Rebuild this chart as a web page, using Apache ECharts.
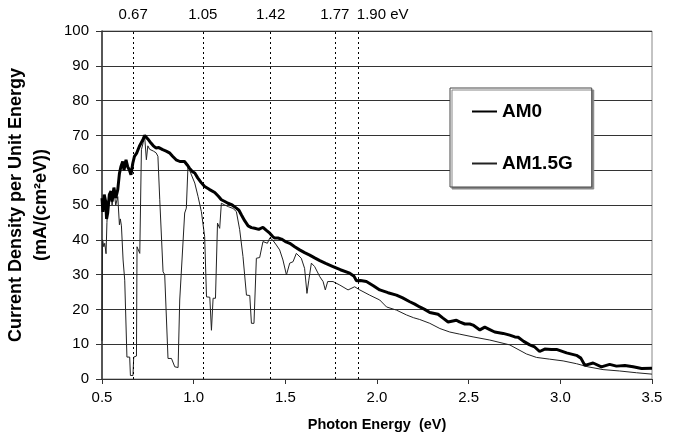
<!DOCTYPE html>
<html>
<head>
<meta charset="utf-8">
<script src="https://cdn.jsdelivr.net/npm/echarts@6/dist/echarts.min.js"></script>
<style>
  html, body { margin: 0; padding: 0; background: #fff; }
  #chart { width: 674px; height: 443px; }
</style>
</head>
<body>
<div id="chart"></div>
<script>
// AM0 spectrum (photon energy eV, current density mA/(cm2 eV))
const am0Energy = [0.500, 0.505, 0.512, 0.520, 0.525, 0.531, 0.540, 0.549, 0.555, 0.565, 0.575, 0.586, 0.595, 0.603, 0.613, 0.620,
    0.631, 0.640, 0.650, 0.658, 0.668, 0.677, 0.690, 0.704, 0.715, 0.725, 0.733, 0.740, 0.750, 0.767, 0.780, 0.794,
    0.810, 0.831, 0.850, 0.868, 0.885, 0.904, 0.925, 0.950, 0.965, 0.977, 0.995, 1.006, 1.022, 1.040, 1.060, 1.085,
    1.115, 1.135, 1.151, 1.170, 1.187, 1.210, 1.233, 1.247, 1.260, 1.278, 1.297, 1.315, 1.333, 1.355, 1.378, 1.395,
    1.415, 1.430, 1.442, 1.460, 1.479, 1.500, 1.524, 1.551, 1.578, 1.605, 1.633, 1.660, 1.688, 1.720, 1.760, 1.800,
    1.851, 1.875, 1.888, 1.910, 1.942, 1.980, 2.015, 2.060, 2.106, 2.140, 2.179, 2.206, 2.233, 2.260, 2.288, 2.333,
    2.360, 2.388, 2.433, 2.450, 2.479, 2.506, 2.524, 2.561, 2.588, 2.615, 2.642, 2.688, 2.724, 2.752, 2.770, 2.800,
    2.833, 2.860, 2.887, 2.915, 2.951, 2.979, 3.034, 3.088, 3.112, 3.134, 3.179, 3.224, 3.269, 3.306, 3.352, 3.397,
    3.443, 3.500];
const am0Values = [52, 48, 53, 51, 46, 47.7, 53, 54, 51, 55, 52, 54.4, 59, 61, 62.5, 60,
    63, 61, 60, 58.7, 62, 64, 65, 66.9, 68, 69, 70, 69.7, 69, 67.8, 67, 66.4,
    66.5, 65.9, 65.5, 65, 64, 63, 62.5, 62.5, 61.5, 60.6, 59.5, 59.2, 57.8, 56.5, 55.3, 54.5,
    53.6, 52.5, 51.5, 51, 50.5, 50, 49.1, 48.5, 47.2, 45.5, 44, 43.5, 43.3, 43, 43.6, 42.8,
    41.9, 41, 40.5, 40.5, 40.2, 39.5, 39, 38, 37.1, 36.3, 35.6, 34.8, 34, 33.2, 32.3, 31.4,
    30.4, 29.5, 28.2, 28.3, 28, 26.8, 25.6, 24.8, 24.1, 23.3, 22.2, 21.5, 20.7, 20, 19.1, 18.6,
    17.5, 16.4, 16.9, 16.4, 15.8, 15.8, 15.5, 14.1, 14.9, 14.2, 13.5, 13.1, 12.6, 12.1, 12, 10.8,
    9.8, 9.2, 7.9, 8.6, 8.5, 8.5, 7.5, 6.8, 6, 3.9, 4.6, 3.5, 4.2, 3.7, 3.9, 3.5,
    3.0, 3.1];

// AM1.5G spectrum
const amgEnergy = [0.500, 0.503, 0.510, 0.515, 0.522, 0.527, 0.531, 0.540, 0.549, 0.555, 0.565, 0.575, 0.586, 0.595, 0.600, 0.606,
    0.615, 0.624, 0.636, 0.651, 0.655, 0.669, 0.673, 0.688, 0.691, 0.700, 0.706, 0.715, 0.725, 0.733, 0.742, 0.750,
    0.760, 0.780, 0.795, 0.805, 0.815, 0.833, 0.842, 0.860, 0.879, 0.897, 0.915, 0.924, 0.933, 0.951, 0.960, 0.969,
    0.985, 1.006, 1.024, 1.042, 1.060, 1.070, 1.088, 1.097, 1.106, 1.119, 1.130, 1.142, 1.151, 1.170, 1.190, 1.215,
    1.233, 1.251, 1.269, 1.288, 1.306, 1.315, 1.329, 1.342, 1.360, 1.378, 1.402, 1.415, 1.430, 1.451, 1.469, 1.487,
    1.506, 1.524, 1.542, 1.560, 1.587, 1.605, 1.618, 1.628, 1.642, 1.660, 1.688, 1.706, 1.718, 1.731, 1.760, 1.797,
    1.842, 1.878, 1.906, 1.960, 2.015, 2.052, 2.106, 2.161, 2.200, 2.233, 2.288, 2.343, 2.397, 2.450, 2.524, 2.615,
    2.724, 2.815, 2.870, 2.942, 3.015, 3.088, 3.151, 3.233, 3.324, 3.415, 3.500];
const amgValues = [11, 40, 38, 39, 36, 45, 51, 52, 53, 50, 54, 50, 52.4, 44.3, 46, 44,
    34.2, 28.4, 6.3, 6.3, 1, 1, 6.3, 6.6, 38, 37.5, 36.1, 65.9, 68, 69.5, 63, 67,
    66, 65.5, 65, 64, 51.5, 30.8, 30, 5.9, 5.9, 3.5, 3.3, 22.7, 22.7, 47.7, 49.1, 61.1,
    59, 56.3, 52.4, 48.1, 40.9, 23.6, 23.5, 14, 23.2, 23.2, 44.8, 43.3, 50.5, 50, 49.5, 49,
    48.1, 42.9, 35.2, 24.1, 24, 16, 16, 34.7, 34.9, 39.5, 39, 40.5, 40, 38.5, 37.1, 34.2,
    29.9, 33.3, 33.7, 36.1, 34.7, 31.8, 24.6, 28.4, 33.3, 32.3, 29.4, 28, 25.6, 28, 28, 27,
    25.6, 26.5, 25.6, 24.1, 22.7, 20.7, 19.8, 18.4, 17.6, 17.1, 16, 14.5, 13.5, 12.9, 12.1, 11.2,
    9.8, 7.2, 6.2, 5.7, 5.2, 4.4, 3.5, 2.7, 2.3, 1.8, 1.4];

// band-gap marker lines
const gapEnergy = [0.67, 1.05, 1.42, 1.77, 1.90];
const gapLabels = ['0.67', '1.05', '1.42', '1.77', '1.90 eV'];

const xTicks = { min: 0.5, max: 3.5, interval: 0.5 };
const yTicks = { min: 0, max: 100, interval: 10 };

const pairs = (xs, ys) => xs.map((x, i) => [x, ys[i]]);

const chart = echarts.init(document.getElementById('chart'), null, { renderer: 'canvas' });

const font = 'Arial, "Liberation Sans", sans-serif';

const option = {
    backgroundColor: '#ffffff',
    animation: false,
    textStyle: { fontFamily: font },
    grid: {
        left: 102, right: 22, top: 31, bottom: 64,
        outerBoundsMode: 'none',
        show: true, borderColor: '#888', borderWidth: 1
    },
    legend: {
        orient: 'vertical',
        left: 450, top: 88,
        padding: [14, 19, 14, 21],
        itemGap: 33,
        itemWidth: 25,
        itemHeight: 14,
        backgroundColor: '#fff',
        borderColor: '#444',
        borderWidth: 1,
        shadowColor: '#888',
        shadowOffsetX: 2,
        shadowOffsetY: 2,
        shadowBlur: 0,
        itemStyle: { opacity: 0 },
        textStyle: { fontSize: 19, fontWeight: 'bold', color: '#000', fontFamily: font },
        data: ['AM0', 'AM1.5G']
    },
    xAxis: {
        type: 'value',
        min: xTicks.min, max: xTicks.max, interval: xTicks.interval,
        name: 'Photon Energy  (eV)',
        nameLocation: 'middle',
        nameGap: 38,
        nameTextStyle: { fontSize: 14.5, fontWeight: 'bold', color: '#000', fontFamily: font },
        axisLine: { lineStyle: { color: '#333', width: 1 } },
        axisTick: { show: true, inside: false, length: 5, lineStyle: { color: '#333' } },
        axisLabel: {
            fontSize: 15, color: '#000', margin: 11, fontFamily: font,
            formatter: v => v.toFixed(1)
        },
        splitLine: { show: false }
    },
    yAxis: {
        type: 'value',
        min: yTicks.min, max: yTicks.max, interval: yTicks.interval,
        name: 'Current Density per Unit Energy\n(mA/(cm²eV))',
        nameLocation: 'middle',
        nameGap: 47,
        nameTextStyle: { fontSize: 18, fontWeight: 'bold', color: '#000', lineHeight: 25, fontFamily: font },
        axisLine: { show: true, lineStyle: { color: '#333', width: 1.5 } },
        axisTick: { show: true, inside: false, length: 6, lineStyle: { color: '#333' } },
        axisLabel: { fontSize: 15, color: '#000', margin: 13, fontFamily: font },
        splitLine: { show: true, lineStyle: { color: '#333', width: 1 } }
    },
    series: [
        {
            name: 'AM0',
            type: 'line',
            symbol: 'none',
            data: pairs(am0Energy, am0Values),
            lineStyle: { color: '#000', width: 3 },
            itemStyle: { color: '#000' },
            z: 3,
            markLine: {
                silent: true,
                symbol: 'none',
                lineStyle: { type: [2, 3], color: '#000', width: 1 },
                label: {
                    show: true, position: 'end', distance: 9,
                    fontSize: 15, color: '#000', fontFamily: font
                },
                data: gapEnergy.map((e, i) => ({
                    xAxis: e,
                    label: {
                        formatter: gapLabels[i],
                        offset: i === gapEnergy.length - 1 ? [24, 0] : [0, 0]
                    }
                }))
            }
        },
        {
            name: 'AM1.5G',
            type: 'line',
            symbol: 'none',
            data: pairs(amgEnergy, amgValues),
            lineStyle: { color: '#222', width: 1 },
            itemStyle: { color: '#222' },
            z: 2
        }
    ]
};

chart.setOption(option);
</script>
</body>
</html>
